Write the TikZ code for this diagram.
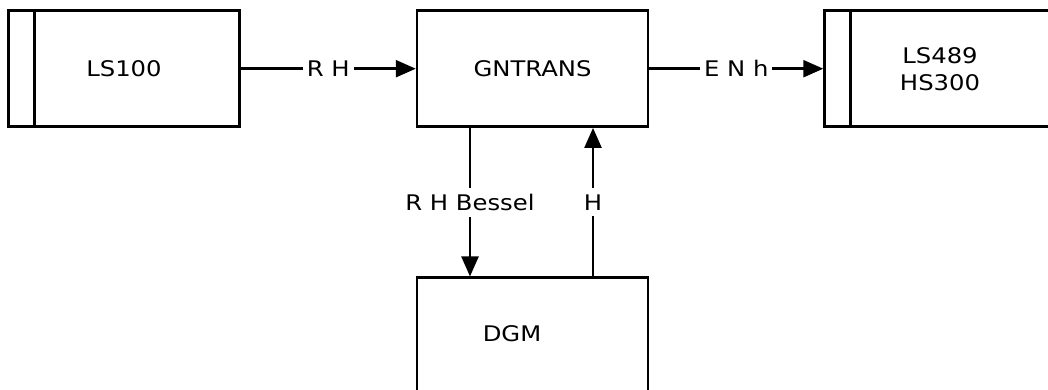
\documentclass[tikz,border=0pt]{standalone}
\usepackage{fontspec}
\setmainfont{DejaVu Sans}[FakeStretch=1.13]
\usetikzlibrary{arrows.meta}
\begin{document}
\begin{tikzpicture}[x=1pt,y=1pt,
  box/.style={draw=black, line width=2.5pt, minimum width=231pt, minimum height=116pt, inner sep=0pt, align=center,
    font=\fontsize{21.5}{27}\selectfont},
  arr/.style={draw=black, line width=2.5pt, -{Triangle[length=20pt,width=17pt]}},
  lbl/.style={fill=white, inner xsep=4pt, inner ysep=6pt, font=\fontsize{21.5}{24}\selectfont, text=black}
]
\clip (0,0) rectangle (1048,389);
\fill[white] (0,0) rectangle (1048,389);
\node[box] (ls100) at (124,320.3) {LS100};
\node[box] (gntrans) at (532.5,320.3) {GNTRANS};
\node[box] (ls489) at (940,320.3) {LS489\\HS300};
\node[box, label={[xshift=-20.5pt,yshift=1.7pt,font=\fontsize{21.5}{24}\selectfont]center:DGM}] (dgm) at (532.5,53.3) {};
\draw[line width=2.5pt] ([xshift=27pt]ls100.north west) -- ([xshift=27pt]ls100.south west);
\draw[line width=2.5pt] ([xshift=27pt]ls489.north west) -- ([xshift=27pt]ls489.south west);
\draw[arr] (ls100.east) -- node[lbl] {R H} (gntrans.west);
\draw[arr] (gntrans.east) -- node[lbl] {E N h} (ls489.west);
\draw[arr] ([xshift=-62.5pt]gntrans.south) -- node[lbl] {R H Bessel} ([xshift=-62.5pt]dgm.north);
\draw[arr] ([xshift=60.5pt]dgm.north) -- node[lbl] {H} ([xshift=60.5pt]gntrans.south);
\end{tikzpicture}
\end{document}
